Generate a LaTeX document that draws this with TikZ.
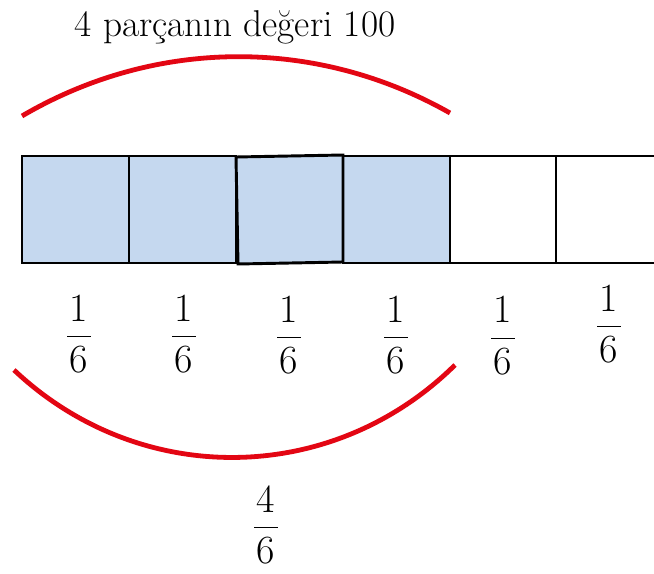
\documentclass[tikz,border=0pt]{standalone}
\usepackage{tikz}
\usetikzlibrary{positioning}
\definecolor{partblue}{RGB}{197,216,239}
\definecolor{arcred}{RGB}{227,6,19}
\newcommand{\frc}[2]{{\setlength{\arrayrulewidth}{1.2pt}%
  \begin{tabular}{@{\hspace{2pt}}c@{\hspace{2pt}}}#1\\[1.5pt]\hline\rule{0pt}{26pt}#2\end{tabular}}}

\begin{document}
\begin{tikzpicture}[x=0.75pt,y=0.75pt,
  part/.style={draw=black,line width=2.2pt},
  shaded/.style={part,fill=partblue},
  bow/.style={draw=arcred,line width=3.6pt},
  fraclabel/.style={inner sep=0pt,font=\fontsize{30}{32}\selectfont}]
\clip (0,0) rectangle (654,-574);
\fill[white] (0,0) rectangle (654,-574);
% the six equal parts
\foreach \xa/\xb in {22/129,129/236,343/450} \draw[shaded] (\xa,-156) rectangle (\xb,-263);
\draw[shaded] (236,-157) -- (343,-155) -- (343,-262) -- (238,-264) -- cycle;
\draw[part] (450,-156) rectangle (556,-263);
\draw[part] (556,-156) rectangle (657,-263);
% heading and bows
\node[anchor=base,font=\fontsize{28}{30}\selectfont] (head) at (235,-37) {4 parçanın değeri 100};
\coordinate (topL) at (22,-116);
\coordinate (topR) at (450,-113);
\coordinate (botL) at (14,-370);
\coordinate (botR) at (455,-365);
\draw[bow] (topL) to[bend left=30,looseness=0.92] (topR);
\draw[bow] (botL) to[bend right=44] (botR);
% fractions
\foreach \px/\py [count=\i] in {79/338,184/338,289/339,396/339,503/340,609/328}
  \node[fraclabel] (f\i) at (\px,-\py) {\frc{1}{6}};
\node[fraclabel] (total) at (266,-529) {\frc{4}{6}};
\end{tikzpicture}
\end{document}
